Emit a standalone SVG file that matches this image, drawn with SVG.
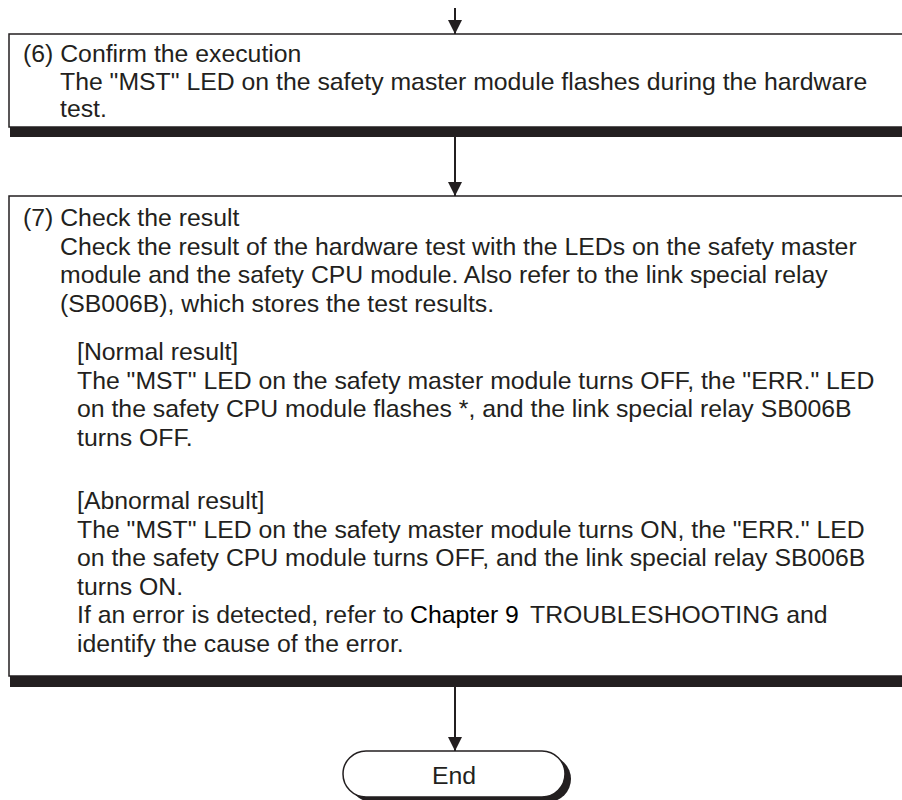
<svg xmlns="http://www.w3.org/2000/svg" width="902" height="800" viewBox="0 0 902 800">
<defs>
<marker id="ah" viewBox="0 0 14 14" refX="14" refY="7" markerWidth="14" markerHeight="14" markerUnits="userSpaceOnUse" orient="auto">
<path d="M0,0 L14,7 L0,14 Z" fill="#231f20"/>
</marker>
</defs>
<style>
.t{font-family:"Liberation Sans",Arial,sans-serif;font-size:24.8px;fill:#231f20}
.box{fill:#fff;stroke:#231f20;stroke-width:1.5}
.band{fill:#231f20}
.conn{stroke:#231f20;stroke-width:2;fill:none}
</style>
<rect width="902" height="800" fill="#fff"/>
<g id="connectors">
<line class="conn" x1="455" y1="8" x2="455" y2="34" marker-end="url(#ah)"/>
<line class="conn" x1="455" y1="137" x2="455" y2="196" marker-end="url(#ah)"/>
<line class="conn" x1="455" y1="687" x2="455" y2="751" marker-end="url(#ah)"/>
</g>
<g id="step6">
<rect class="band" x="10" y="126" width="900" height="11"/>
<rect class="box" x="9" y="34" width="900" height="93"/>
<text class="t" x="23" y="62">(6) Confirm the execution</text>
<text class="t" x="60" y="89.5">The "MST" LED on the safety master module flashes during the hardware</text>
<text class="t" x="60" y="117">test.</text>
</g>
<g id="step7">
<rect class="band" x="10" y="675" width="900" height="12"/>
<rect class="box" x="9" y="196" width="900" height="480"/>
<text class="t" x="23" y="226">(7) Check the result</text>
<text class="t" x="60" y="254.5">Check the result of the hardware test with the LEDs on the safety master</text>
<text class="t" x="60" y="283">module and the safety CPU module. Also refer to the link special relay</text>
<text class="t" x="60" y="311.5">(SB006B), which stores the test results.</text>
<text class="t" x="77" y="360">[Normal result]</text>
<text class="t" x="77" y="388.5">The "MST" LED on the safety master module turns OFF, the "ERR." LED</text>
<text class="t" x="77" y="417">on the safety CPU module flashes *, and the link special relay SB006B</text>
<text class="t" x="77" y="445.5">turns OFF.</text>
<text class="t" x="77" y="509">[Abnormal result]</text>
<text class="t" x="77" y="537.5">The "MST" LED on the safety master module turns ON, the "ERR." LED</text>
<text class="t" x="77" y="566">on the safety CPU module turns OFF, and the link special relay SB006B</text>
<text class="t" x="77" y="594.5">turns ON.</text>
<text class="t" x="77" y="623">If an error is detected, refer to</text>
<text class="t" x="410" y="623" style="fill:#000">Chapter 9</text>
<text class="t" x="530" y="623">TROUBLESHOOTING and</text>
<text class="t" x="77" y="651.5">identify the cause of the error.</text>
</g>
<g id="end">
<rect x="349" y="756" width="222" height="46" rx="23" fill="#231f20"/>
<rect x="343" y="751" width="222" height="46" rx="23" fill="#fff" stroke="#231f20" stroke-width="1.5"/>
<text class="t" x="454" y="784" text-anchor="middle">End</text>
</g>
</svg>
